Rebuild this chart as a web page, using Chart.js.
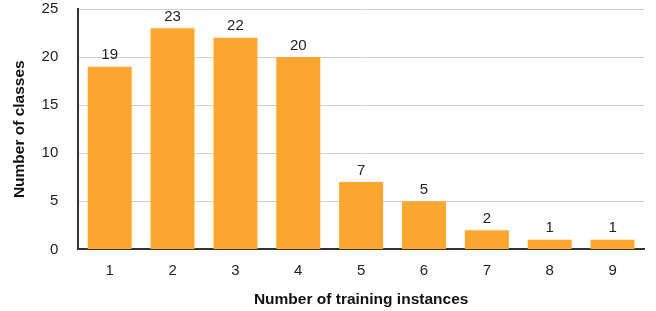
<!DOCTYPE html>
<html>
<head>
<meta charset="utf-8">
<script src="https://cdn.jsdelivr.net/npm/chart.js@4"></script>
<style>
  html, body { margin: 0; padding: 0; background: #fff; }
  #wrap { width: 656px; height: 311px; }
</style>
</head>
<body>
<div id="wrap"><canvas id="graph_instances"></canvas></div>
<script>
/*------------------------------*/
/*     DATA                     */
/*------------------------------*/
var categories = ['1', '2', '3', '4', '5', '6', '7', '8', '9']
var classCounts = [19, 23, 22, 20, 7, 5, 2, 1, 1]
var yTicks = [0, 5, 10, 15, 20, 25]

/*------------------------------*/
/*     VALUE LABELS PLUGIN      */
/*------------------------------*/
var valueLabels = {
  id: 'valueLabels',
  afterDatasetsDraw: function (chart) {
    var ctx = chart.ctx
    ctx.save()
    ctx.font = '15px "Liberation Sans", Arial, sans-serif'
    ctx.fillStyle = '#222'
    ctx.textAlign = 'center'
    ctx.textBaseline = 'bottom'
    chart.getDatasetMeta(0).data.forEach(function (bar, i) {
      ctx.fillText(chart.data.datasets[0].data[i], bar.x, bar.y - 4)
    })
    ctx.restore()
  }
}

var ctx_inst = document.getElementById('graph_instances').getContext('2d')

var config_inst = {
  type: 'bar',
  data: {
    labels: categories,
    datasets: [{
      label: 'Number of classes',
      data: classCounts,
      backgroundColor: 'rgb(253, 166, 48)',
      borderWidth: 0,
      categoryPercentage: 0.7,
      barPercentage: 1
    }]
  },
  options: {
    responsive: true,
    maintainAspectRatio: false,
    animation: false,
    layout: { padding: { top: 0, right: 12, left: 10, bottom: 2 } },
    plugins: {
      legend: { display: false },
      tooltip: { enabled: false }
    },
    scales: {
      x: {
        grid: { display: false, drawTicks: false },
        border: { display: true, color: '#333', width: 2 },
        ticks: {
          color: '#222',
          padding: 12,
          font: { family: '"Liberation Sans", Arial, sans-serif', size: 15 }
        },
        title: {
          display: true,
          text: 'Number of training instances',
          color: '#111',
          padding: { top: -1, bottom: 0 },
          font: { family: '"Liberation Sans Narrow", "Liberation Sans", Arial, sans-serif', size: 15.5, weight: 'bold' }
        }
      },
      y: {
        min: 0,
        max: 25,
        afterBuildTicks: function (axis) {
          axis.ticks = yTicks.map(function (v) { return { value: v } })
        },
        // invisible tick marks give the gap between labels and axis
        afterFit: function (axis) { axis.width += 20 },
        grid: { color: '#cfcfcf', lineWidth: 1, drawTicks: true, tickLength: 20, tickColor: 'rgba(0,0,0,0)' },
        border: { display: true, color: '#333', width: 2 },
        ticks: {
          color: '#222',
          padding: 0,
          font: { family: '"Liberation Sans", Arial, sans-serif', size: 15 }
        },
        title: {
          display: true,
          text: 'Number of classes',
          color: '#111',
          padding: { top: 0, bottom: -7 },
          font: { family: '"Liberation Sans Narrow", "Liberation Sans", Arial, sans-serif', size: 15.5, weight: 'bold' }
        }
      }
    }
  },
  plugins: [valueLabels]
}
var graph_instances = new Chart(ctx_inst, config_inst)
</script>
</body>
</html>
